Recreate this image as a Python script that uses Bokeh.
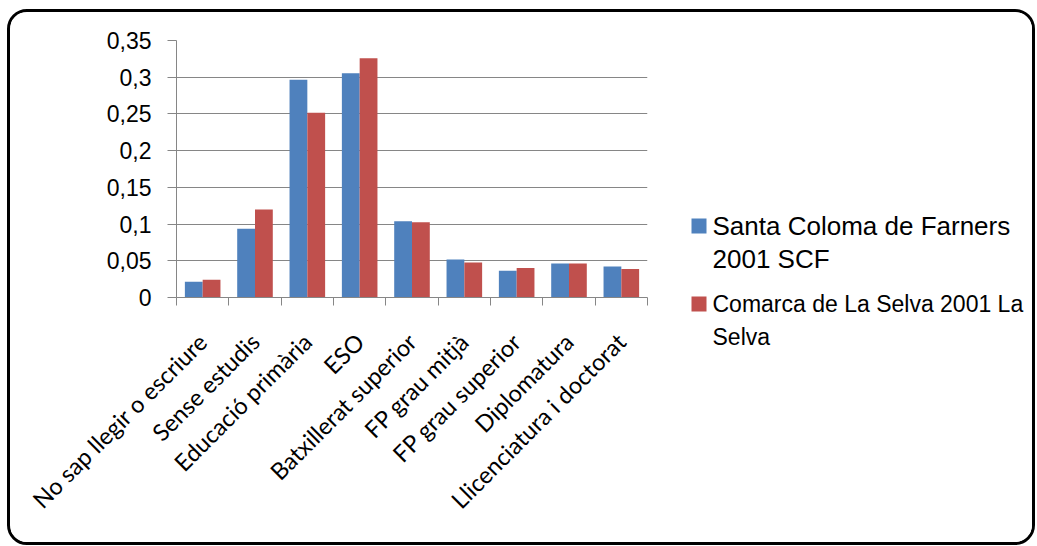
from math import pi
from bokeh.plotting import figure
from bokeh.layouts import row
from bokeh.models import Range1d, LinearAxis, FixedTicker, ColumnDataSource
from bokeh.transform import dodge
from bokeh.core.properties import value
from bokeh.embed import file_html
from bokeh.resources import INLINE

categories = ["No sap llegir o escriure", "Sense estudis", "Educació primària", "ESO",
              "Batxillerat superior", "FP grau mitjà", "FP grau superior", "Diplomatura",
              "Llicenciatura i doctorat"]
scf_2001 = [0.0215, 0.0935, 0.2965, 0.3055, 0.1038, 0.0517, 0.0366, 0.0462, 0.0421]
selva_2001 = [0.0242, 0.1199, 0.2516, 0.3257, 0.1025, 0.0476, 0.0403, 0.0462, 0.0389]
y_ticks = [0, 0.05, 0.1, 0.15, 0.2, 0.25, 0.3, 0.35]
y_tick_labels = ["0", "0,05", "0,1", "0,15", "0,2", "0,25", "0,3", "0,35"]
legend_lines = [["Santa Coloma de Farners", "2001 SCF"],
                ["Comarca de La Selva 2001 La", "Selva"]]
colors = ["#4F81BD", "#C0504D"]
GRID = "#868686"

W, H = 1022, 530
W1 = 650
FL, FT, FR, FB = 166, 28, 637, 285   # chart frame edges in canvas pixels
n = len(categories)
centers = [i + 0.5 for i in range(n)]
bounds = list(range(n + 1))
src = ColumnDataSource(dict(xc=centers, cat=categories, scf=scf_2001, selva=selva_2001))

p = figure(width=W1, height=H, x_range=Range1d(0, n), y_range=Range1d(0, 0.35),
           output_backend="svg", toolbar_location=None, x_axis_location=None,
           y_axis_location=None, min_border_left=FL, min_border_right=W1 - FR,
           min_border_top=FT, min_border_bottom=H - FB)
p.frame_align = False
p.outline_line_color = None
p.background_fill_color = "white"
p.border_fill_color = "white"

p.vbar(x=dodge("xc", -0.17), top="scf", width=0.34, source=src,
       fill_color=colors[0], line_color=None)
p.vbar(x=dodge("xc", 0.17), top="selva", width=0.34, source=src,
       fill_color=colors[1], line_color=None)

# y axis
yax = LinearAxis(ticker=FixedTicker(ticks=y_ticks),
                 major_label_overrides={t: l for t, l in zip(y_ticks, y_tick_labels)})
yax.axis_line_color = GRID
yax.major_tick_line_color = GRID
yax.major_tick_out = 9
yax.major_tick_in = 0
yax.minor_tick_line_color = None
yax.major_label_standoff = 16
yax.major_label_text_font = "Liberation Sans"
yax.major_label_text_font_size = "23px"
yax.major_label_text_color = "black"
p.add_layout(yax, "left")

# x axis: labels at category centres, ticks at category boundaries
xax = LinearAxis(ticker=FixedTicker(ticks=centers, minor_ticks=bounds),
                 major_label_overrides={c: l for c, l in zip(centers, categories)})
xax.axis_line_color = GRID
xax.major_tick_line_color = None
xax.minor_tick_line_color = GRID
xax.minor_tick_out = 8
xax.minor_tick_in = 0
xax.major_label_orientation = pi / 4
xax.major_label_standoff = 32
xax.major_label_text_font = "Lato"
xax.major_label_text_font_size = "23.5px"
xax.major_label_text_color = "black"
p.add_layout(xax, "below")

p.xgrid.grid_line_color = None
p.ygrid.grid_line_color = GRID
p.ygrid.ticker = FixedTicker(ticks=y_ticks)

# legend panel: a second figure whose frame is its whole canvas (pixel coordinates, y down)
W2 = W - W1
lg = figure(width=W2, height=H, x_range=Range1d(0, W2), y_range=Range1d(H, 0),
            output_backend="svg", toolbar_location=None, x_axis_location=None,
            y_axis_location=None, min_border=0)
lg.frame_align = False
lg.outline_line_color = None
lg.grid.grid_line_color = None
lg.background_fill_color = "white"
lg.border_fill_color = "white"

sq_y = [213.5, 291.5]
text_sizes = ["26px", "23px"]
lg.rect(x=[38.5, 38.5], y=sq_y, width=15, height=15, fill_color=colors, line_color=None)
tx, ty, tt, ts = [], [], [], []
for i, lines in enumerate(legend_lines):
    for j, line in enumerate(lines):
        tx.append(52)
        ty.append(sq_y[i] + j * 33)
        tt.append(line)
        ts.append(text_sizes[i])
lg.text(x="x", y="y", text="t", text_font_size="s",
        source=ColumnDataSource(dict(x=tx, y=ty, t=tt, s=ts)),
        text_font=value("Liberation Sans"), text_color="black",
        text_baseline="middle", text_align="left")

layout = row(p, lg, spacing=0)
layout.styles = {"border": "3px solid black", "border-radius": "20px",
                 "margin-left": "7px", "margin-top": "9px", "overflow": "hidden"}

open("out.html", "w").write(file_html(layout, INLINE))
